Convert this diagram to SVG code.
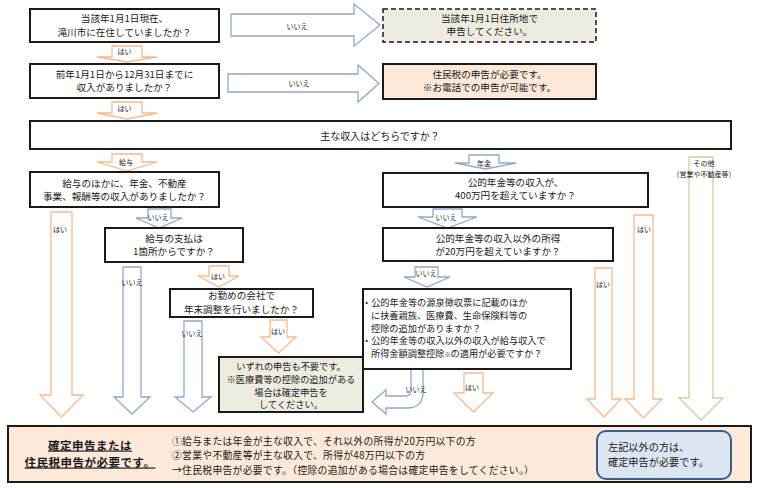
<svg xmlns="http://www.w3.org/2000/svg" width="760" height="488" viewBox="0 0 760 488">
<style>
text{font-family:"Noto Sans CJK JP","Noto Sans",sans-serif;fill:#1a1a1a}
.t{font-size:9.6px;text-anchor:middle}
.tl{font-size:9.6px}
.s{font-size:7px;text-anchor:middle}
.box{fill:#fff;stroke:#1a1a1a;stroke-width:2}
.or{fill:#fff;stroke:#F9B98A;stroke-width:1.3;stroke-linejoin:miter}
.bl{fill:#fff;stroke:#8EA9CE;stroke-width:1.3}
.gr{fill:#fff;stroke:#C3D69B;stroke-width:1.3}
</style>
<rect width="760" height="488" fill="#fff"/>
<g id="connectors">
<polygon class="bl" points="231,14 354,14 354,4 380,25 354,46 354,36 231,36"/>
<polygon class="bl" points="228,74 358,74 358,65 379,83.5 358,102 358,92 228,92"/>
<polygon class="or" points="112,46 142,46 142,57 157,57 127,62 97,57 112,57"/>
<polygon class="or" points="112,102 142,102 142,113 157,113 127,119 97,113 112,113"/>
<polygon class="or" points="112,154 142,154 142,162 157,162 127,171 97,162 112,162"/>
<polygon class="bl" points="469,155 499,155 499,163 516,163 485.5,169 455,163 469,163"/>
<polygon class="bl" points="148,209 171,209 171,218 182,218 159,228 136,218 148,218"/>
<polygon class="bl" points="433,209 462,209 462,217 477,217 447.5,228 418,217 433,217"/>
<polygon class="or" points="51,212 72,212 72,395 83,395 61.5,417 40,395 51,395"/>
<polygon class="bl" points="123,267 141,267 141,397 150,397 132,414 114,397 123,397"/>
<polygon class="or" points="209,266 229,266 229,276 239,276 219,287 198,276 209,276"/>
<polygon class="bl" points="184,321 202,321 202,397 211,397 193,412 175,397 184,397"/>
<polygon class="or" points="270,320 287,320 287,337 296,337 278.5,353 261,337 270,337"/>
<polygon class="bl" points="415,267 438,267 438,277 450,277 427,287 404,277 415,277"/>
<polygon class="or" points="464,373 483,373 483,393 493,393 473.5,412 454,393 464,393"/>
<polygon class="or" points="595,268 612,268 612,399 621,399 604,417 587,399 595,399"/>
<polygon class="or" points="634,215 653,215 653,399 662,399 643.5,418 625,399 634,399"/>
<polygon class="gr" points="689,157 713,157 713,398 723,398 701,420 679,398 689,398"/>
<path class="bl" d="M423,369 L423,392 Q423,408 407,408 L386,408 L386,414 L372,402 L386,390 L386,396 L405,396 Q411,396 411,390 L411,369 Z"/>
<text class="s" x="297" y="28.5">いいえ</text>
<text class="s" x="299" y="85.5">いいえ</text>
<text class="s" x="124.5" y="53.5">はい</text>
<text class="s" x="124.5" y="110.5">はい</text>
<text class="s" x="126" y="164.5">給与</text>
<text class="s" x="484" y="165.5">年金</text>
<text class="s" x="158" y="219.5">いいえ</text>
<text class="s" x="446" y="219.5">いいえ</text>
<text class="s" x="60" y="231.5">はい</text>
<text class="s" x="132" y="284.5">いいえ</text>
<text class="s" x="218" y="278.5">はい</text>
<text class="s" x="192" y="335.5">いいえ</text>
<text class="s" x="278" y="333.5">はい</text>
<text class="s" x="426" y="275.5">いいえ</text>
<text class="s" x="416" y="391.5">いいえ</text>
<text class="s" x="472" y="389.5">はい</text>
<text class="s" x="603" y="286.5">はい</text>
<text class="s" x="644" y="231.5">はい</text>
<text class="s" x="704" y="166">その他</text>
<text class="s" x="704" y="176.5">（営業や不動産等）</text>
</g>
<g id="n1">
<rect class="box" x="30" y="9" width="189" height="33"/>
<text class="t" x="124.5" y="21.5">当該年1月1日現在、</text>
<text class="t" x="124.5" y="36">滝川市に在住していましたか？</text>
</g>
<g id="n2">
<rect x="383" y="9" width="213" height="33" fill="#EEECE1" stroke="#1a1a1a" stroke-width="1.5" stroke-dasharray="5,3"/>
<text class="t" x="489.5" y="22">当該年1月1日住所地で</text>
<text class="t" x="489.5" y="35">申告してください。</text>
</g>
<g id="n3">
<rect class="box" x="30" y="64" width="189" height="34"/>
<text class="t" x="124.5" y="77.5">前年1月1日から12月31日までに</text>
<text class="t" x="124.5" y="90.5">収入がありましたか？</text>
</g>
<g id="n4">
<rect x="383" y="64" width="213" height="35" fill="#FDE9D9" stroke="#1a1a1a" stroke-width="2"/>
<text class="t" x="489.5" y="78">住民税の申告が必要です。</text>
<text class="t" x="489.5" y="91">※お電話での申告が可能です。</text>
</g>
<g id="n5">
<rect class="box" x="30" y="121" width="701" height="28"/>
<text class="t" x="380" y="140" style="font-size:10px">主な収入はどちらですか？</text>
</g>
<g id="n6">
<rect class="box" x="30" y="172" width="189" height="35"/>
<text class="t" x="124.5" y="186.5">給与のほかに、年金、不動産</text>
<text class="t" x="124.5" y="199.5">事業、報酬等の収入がありましたか？</text>
</g>
<g id="n7">
<rect class="box" x="383" y="173" width="265" height="34"/>
<text class="t" x="515.5" y="186">公的年金等の収入が、</text>
<text class="t" x="515.5" y="199">400万円を超えていますか？</text>
</g>
<g id="n8">
<rect class="box" x="105" y="228" width="138" height="34"/>
<text class="t" x="174" y="241.5">給与の支払は</text>
<text class="t" x="174" y="254.5">1箇所からですか？</text>
</g>
<g id="n9">
<rect class="box" x="383" y="228" width="230" height="33"/>
<text class="t" x="498" y="241.5">公的年金等の収入以外の所得</text>
<text class="t" x="498" y="254.5">が20万円を超えていますか？</text>
</g>
<g id="n10">
<rect class="box" x="170" y="289" width="143" height="28"/>
<text class="t" x="241.5" y="298.5">お勤めの会社で</text>
<text class="t" x="241.5" y="312.5">年末調整を行いましたか？</text>
</g>
<g id="n11">
<rect x="219" y="357" width="144" height="55" fill="#EEECE1" stroke="#1a1a1a" stroke-width="2"/>
<text class="t" x="291" y="369.5" style="font-size:9.2px">いずれの申告も不要です。</text>
<text class="t" x="291" y="382.5" style="font-size:9.2px">※医療費等の控除の追加がある</text>
<text class="t" x="291" y="395.5" style="font-size:9.2px">場合は確定申告を</text>
<text class="t" x="291" y="408.3" style="font-size:9.2px">してください。</text>
</g>
<g id="n12">
<rect class="box" x="363" y="289" width="208" height="80"/>
<text class="tl" style="font-size:9.2px"><tspan x="362" y="306">・公的年金等の源泉徴収票に記載のほか</tspan><tspan x="371" y="318.8">に扶養親族、医療費、生命保険料等の</tspan><tspan x="371" y="331.6">控除の追加がありますか？</tspan><tspan x="362" y="344.4">・公的年金等の収入以外の収入が給与収入で</tspan><tspan x="371" y="357.2">所得金額調整控除<tspan style="font-size:6px">※</tspan>の適用が必要ですか？</tspan></text>
</g>
<g id="n13">
<rect x="8" y="426" width="743" height="56" fill="#FDE9D9" stroke="#1a1a1a" stroke-width="2"/>
<text x="90" y="449.5" style="font-size:11.5px;font-weight:bold;text-anchor:middle;text-decoration:underline;letter-spacing:0.5px">確定申告または</text>
<text x="90" y="466.5" style="font-size:11.5px;font-weight:bold;text-anchor:middle;text-decoration:underline;letter-spacing:0.5px">住民税申告が必要です。</text>
<text class="tl" x="172" y="445" style="font-size:9.8px;letter-spacing:0.3px">①給与または年金が主な収入で、それ以外の所得が20万円以下の方</text>
<text class="tl" x="172" y="459.3" style="font-size:9.8px;letter-spacing:0.3px">②営業や不動産等が主な収入で、所得が48万円以下の方</text>
<text class="tl" x="172" y="473.6" style="font-size:9.8px;letter-spacing:0.3px">→住民税申告が必要です。（控除の追加がある場合は確定申告をしてください。）</text>
</g>
<g id="n14">
<rect x="597" y="431" width="134" height="48" rx="9" fill="#DCE6F2" stroke="#3B5E8C" stroke-width="2"/>
<text class="tl" x="608" y="450.5" style="font-size:10.2px">左記以外の方は、</text>
<text class="tl" x="608" y="466" style="font-size:10.2px">確定申告が必要です。</text>
</g>
</svg>
